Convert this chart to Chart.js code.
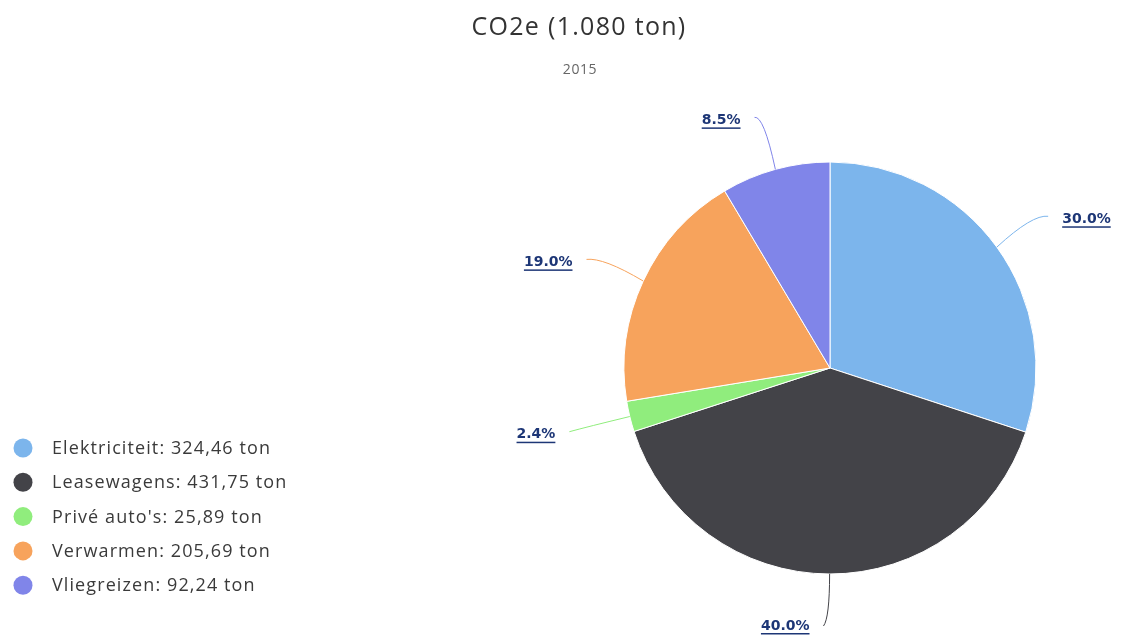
<!DOCTYPE html>
<html>
<head>
<meta charset="utf-8">
<script src="https://cdn.jsdelivr.net/npm/chart.js@4.4.1/dist/chart.umd.min.js"></script>
<style>
html,body{margin:0;padding:0;background:#fff;}
#wrap{width:1122px;height:638px;position:relative;}
</style>
</head>
<body>
<div id="wrap"><canvas id="c" width="1122" height="638"></canvas></div>
<script>
const titleText = 'CO2e (1.080 ton)';
const subtitleText = '2015';
const categories = ['Elektriciteit', 'Leasewagens', "Privé auto's", 'Verwarmen', 'Vliegreizen'];
const values = [324.46, 431.75, 25.89, 205.69, 92.24];
const palette = ['#7cb5ec', '#434348', '#90ed7d', '#f7a35c', '#8085e9'];
const unit = 'ton';

const total = values.reduce((a, b) => a + b, 0);

const overlay = {
  id: 'overlay',
  afterDraw(chart) {
    const ctx = chart.ctx;
    ctx.save();
    // title & subtitle
    ctx.textAlign = 'center';
    ctx.textBaseline = 'middle';
    ctx.fillStyle = '#333333';
    ctx.font = '25px "Open Sans", sans-serif';
    ctx.letterSpacing = '1.3px';
    ctx.fillText(titleText, 579, 28);
    ctx.fillStyle = '#666666';
    ctx.font = '14px "Open Sans", sans-serif';
    ctx.letterSpacing = '0.6px';
    ctx.fillText(subtitleText, 580, 70);

    // legend
    ctx.textAlign = 'left';
    ctx.font = '18px "Open Sans", sans-serif';
    ctx.letterSpacing = '1.1px';
    categories.forEach((cat, i) => {
      const y = 448 + i * 34.3;
      ctx.fillStyle = palette[i];
      ctx.beginPath();
      ctx.arc(23, y, 9.5, 0, Math.PI * 2);
      ctx.fill();
      ctx.fillStyle = '#3a3a3a';
      ctx.fillText(cat + ': ' + values[i].toFixed(2).replace('.', ',') + ' ' + unit, 52, y + 1);
    });

    // data labels with connectors
    const meta = chart.getDatasetMeta(0);
    ctx.font = 'bold 14px "DejaVu Sans", sans-serif';
    ctx.letterSpacing = '0px';
    meta.data.forEach((arc, i) => {
      const p = arc.getProps(['x', 'y', 'startAngle', 'endAngle', 'outerRadius'], true);
      const mid = (p.startAngle + p.endAngle) / 2;
      const ux = Math.cos(mid), uy = Math.sin(mid);
      const r = p.outerRadius;
      const ex = p.x + r * ux, ey = p.y + r * uy;
      const cx = p.x + (r + 44) * ux, cy = p.y + (r + 44) * uy;
      const tx = p.x + (r + 56) * ux, ty = Math.min(p.y + (r + 56) * uy, chart.height - 14);
      const right = ux > 0.001;
      const dir = right ? 1 : -1;
      ctx.strokeStyle = palette[i];
      ctx.lineWidth = 1;
      ctx.beginPath();
      ctx.moveTo(ex, ey);
      ctx.quadraticCurveTo(cx, Math.min(cy, ty), tx + dir * 6, ty + 2);
      ctx.stroke();

      const txt = (values[i] / total * 100).toFixed(1) + '%';
      const lx = tx + dir * 20;
      const ly = Math.min(ty + 5, chart.height - 12);
      ctx.fillStyle = '#1d3676';
      ctx.textAlign = right ? 'left' : 'right';
      ctx.textBaseline = 'middle';
      ctx.fillText(txt, lx, ly);
      const w = ctx.measureText(txt).width;
      const x0 = right ? lx : lx - w;
      ctx.fillRect(x0, ly + 7, w, 1.5);
    });
    ctx.restore();
  }
};

new Chart(document.getElementById('c'), {
  type: 'pie',
  data: {
    labels: categories,
    datasets: [{
      data: values,
      backgroundColor: palette,
      borderColor: '#ffffff',
      borderWidth: 1,
      hoverOffset: 0
    }]
  },
  options: {
    responsive: false,
    animation: false,
    radius: 206,
    layout: { padding: { left: 590, right: 52, top: 128, bottom: 30 } },
    plugins: {
      legend: { display: false },
      title: { display: false },
      tooltip: { enabled: false }
    }
  },
  plugins: [overlay]
});
</script>
</body>
</html>
